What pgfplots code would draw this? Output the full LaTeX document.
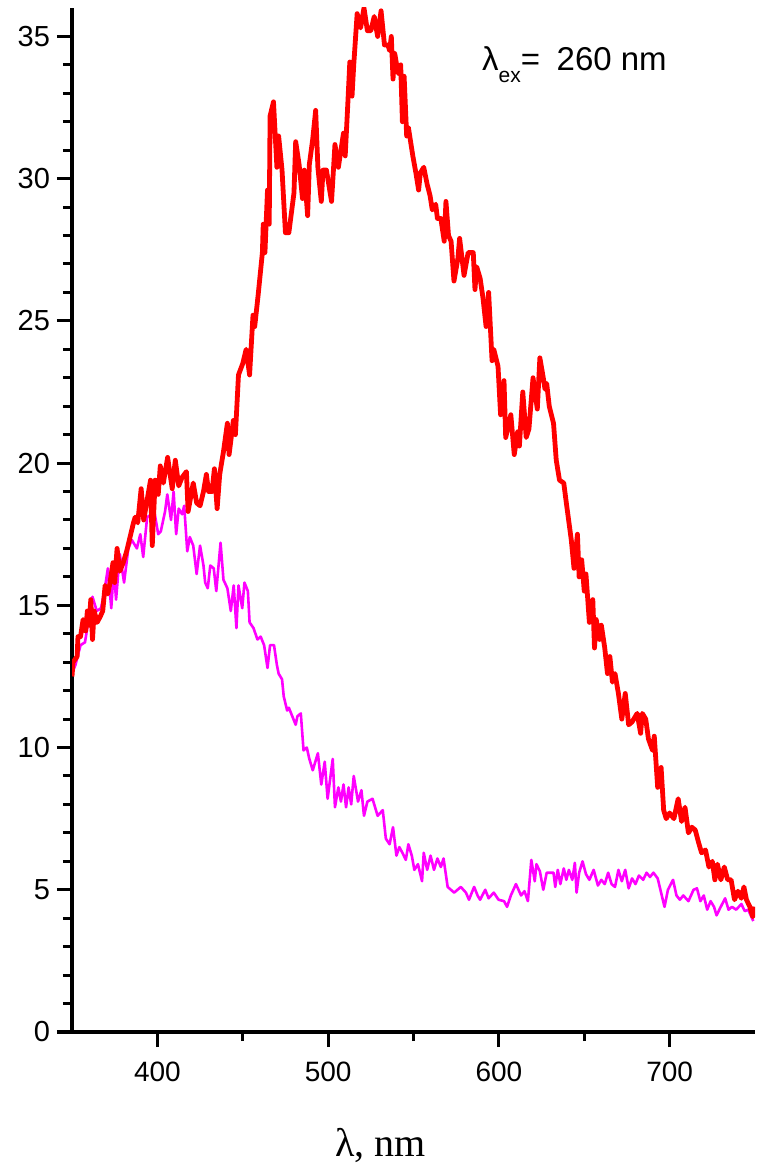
\documentclass[border=0pt]{standalone}
\usepackage{fontspec}
\setmainfont{Liberation Sans}
\newfontfamily\timesfont{Liberation Serif}
\usepackage{pgfplots}
\pgfplotsset{compat=1.18}

\pgfplotstableread{
x y
350 12.5
350.6 13.0
353 13.2
353.5 13.9
355 13.9
356.5 14.5
358 14.1
359 14.8
360 14.3
361 15.2
362 13.8
363 14.8
364.7 14.4
366.5 14.6
368 14.8
369.4 15.7
371 15.4
372.3 15.8
374 16.5
375 15.8
376.4 17.0
378 16.2
380 16.5
382 16.9
384 17.4
386 17.9
387 18.1
388.5 17.9
390.5 19.1
392 18.0
394 18.7
396 19.4
397 17.1
398.7 19.4
400.5 18.9
401.7 19.9
403.5 19.3
406 20.2
408.7 19.1
410.5 20.1
412.5 19.2
414.5 19.5
417 19.7
418 18.3
421 19.3
423 18.6
425 18.5
427 19.0
428.7 19.6
430 19.0
432 19.0
433.4 19.8
435 18.4
436.5 19.6
438.7 20.4
441 21.4
442 20.3
444.5 21.5
445.7 21.0
447.5 23.1
450 23.5
452 24.0
454 23.1
456 25.2
457 24.8
459 25.9
461.5 27.4
462 28.4
463 27.4
464.5 29.6
465.5 28.4
466 32.2
468 32.7
470 30.4
471 31.5
473 30.3
475 28.1
477 28.1
480 29.5
481 31.3
483 30.5
485 29.3
486 30.3
488 28.7
489 30.5
491 31.4
492.7 32.4
494 30.4
496 29.2
497 30.3
499 30.3
502 29.2
504 31.2
506 30.4
509 31.6
510 30.8
511.5 32.6
512.7 34.1
514 32.9
515 34.0
517 35.8
519 35.3
521 36.0
523 35.2
525 35.2
527 35.7
529 35.0
531 35.9
533 34.7
535 34.7
536 34.5
537 35.0
538 33.5
539 34.4
541 33.7
542.5 34.0
543.5 32.0
544.5 33.6
546 31.5
547 31.8
549.6 30.8
551.4 30.2
553 29.6
554 30.2
556 30.4
558 29.8
559.7 29.4
561 28.9
563 29.1
564 28.6
566 28.6
568 27.8
569 29.2
570.5 28.0
572 27.8
573.7 26.4
576 27.2
577 27.9
579.6 26.6
582 27.4
583.5 27.4
585 27.4
586 26.1
587 26.9
589 26.5
590.7 25.8
592.5 24.8
594 26.0
596 23.6
597 24.0
599.5 23.4
601 21.7
603 22.9
604 20.9
607 21.7
609 20.3
611 21.1
612 20.6
614 22.5
616 20.9
617.6 21.2
620 23.0
622.5 21.9
624 23.7
626 23.0
627 22.6
628 22.8
629.5 22.0
632 21.4
633.6 20.1
635.5 19.4
638 19.3
639.5 18.6
642.4 17.3
644 16.3
646 17.5
647 16.0
648.5 16.6
650 15.5
651 16.1
653 14.4
655 15.2
656 13.5
657 14.5
659 13.8
660 14.3
662 13.5
663.6 12.6
665 13.2
666.5 12.3
668 12.6
670 11.9
672 11.0
674 11.9
676 10.8
678 10.9
681 11.2
683 10.5
684 11.2
686 11.0
687.6 10.3
690 9.9
691 10.4
693 8.6
695 9.3
696.5 7.8
698 7.5
700 7.7
702.5 7.5
705 8.2
707 7.4
709 7.9
711 7.0
713 7.2
715 7.1
717 6.65
718.7 6.3
721 6.4
723 5.8
725 6.0
726.5 5.35
728 5.9
730 5.35
732 5.8
734 5.35
736 5.35
738 4.65
740 4.95
742 4.7
743.5 5.1
745 4.65
747 4.4
748.7 4.05
750 4.4
}\redtable

\pgfplotstableread{
x y
350 12.6
352 12.9
355 13.6
357.6 13.7
360 14.6
362 15.3
364.5 14.8
367 14.9
369 15.5
371 16.3
373 14.9
374.5 16.3
375.8 15.2
378 16.8
380.5 15.8
383 17.0
385 17.3
388 17.0
390 17.5
391.7 16.7
394 18.1
396.5 18.2
398.5 18.2
400.5 17.5
402 17.6
404.5 18.3
405.8 18.9
408 18.0
409.5 19.0
411 17.5
412.5 18.4
414.5 18.2
415.7 18.5
417.5 16.9
419 17.4
421 17.1
423 16.1
425 17.1
427 16.4
428 15.8
429.5 15.6
431 16.4
433 16.3
434.5 15.5
437 17.2
438.7 15.9
441 15.6
443 14.8
444.7 15.7
446.3 14.2
447.5 15.7
449.7 14.9
451 15.8
453 15.5
454 14.4
456.3 14.2
458.6 13.8
460.5 13.9
462.5 13.6
464.5 12.8
466 13.6
468.3 13.6
470 12.9
471 12.6
473 12.4
474 11.8
476 11.3
477 11.4
479 11.1
481 10.8
482 11.1
484 11.2
485.6 9.9
487.5 10.0
489 9.6
491 9.2
494 9.8
496 8.7
498 9.5
499.7 8.2
502.7 9.6
504 7.9
506 8.6
507.5 8.1
509 8.7
510.5 7.9
512 8.6
513.5 8.0
515 9.0
517.5 8.1
519.5 8.5
521 7.6
523 8.1
526 8.2
529 7.6
532 7.8
533.8 6.8
536 6.6
538 7.2
540 6.2
541.7 6.5
543.5 6.3
545.5 6.05
547 6.6
549 6.2
550.5 5.7
552.6 5.9
555 5.3
556 6.3
558 5.7
560 6.2
562 5.7
564 6.1
566 5.8
567.6 6.1
570 5.1
573.8 4.9
577.7 5.1
580.7 4.9
582.5 4.65
585.5 5.1
587.5 4.8
589 4.65
592 5.0
594 4.7
597 4.9
599.8 4.65
603 4.6
604.8 4.4
607 4.8
610 5.2
613 4.8
615 4.95
617 4.6
619 6.05
621 5.3
622 5.9
624 5.65
626 5.0
628 5.6
630 5.6
632 5.6
633 5.1
634.5 5.7
636 5.2
638 5.75
639.5 5.35
641 5.7
643 5.35
644.5 5.95
645.5 4.9
647 5.6
649 6.0
651 5.55
653 5.35
655.5 5.7
658 5.15
660 5.35
662 5.2
664 5.6
666 5.2
668 5.1
670 5.7
672 5.3
674 5.7
676 5.05
678 5.4
680 5.2
682 5.5
684.5 5.35
686.5 5.6
688.5 5.45
690.5 5.6
693 5.4
695 4.9
697 4.4
699 5.0
702 5.35
704 4.8
706 4.65
708 4.8
711 4.6
714 5.0
716 5.05
718 4.6
720 4.8
722 4.3
724 4.6
726 4.4
727.5 4.1
729.5 4.35
732.5 4.7
734.5 4.3
736.5 4.4
739 4.3
742 4.5
744 4.25
746 4.3
749 3.9
}\magtable

\begin{document}
\begin{tikzpicture}
  \begin{axis}[
    scale only axis,
    width=341.5pt,
    height=512pt,
    xmin=350, xmax=750,
    ymin=0, ymax=36,
    axis lines=left,
    axis line style={-, line width=1.5pt},
    xtick={400,500,600,700},
    ytick={0,5,...,35},
    minor x tick num=1,
    minor y tick num=4,
    tick align=outside,
    tick style={black, line width=1.5pt},
    major tick length=7.5pt,
    minor tick length=4.5pt,
    /pgf/number format/assume math mode=true,
    tick label style={font=\fontsize{14}{16}\selectfont},
    yticklabel style={font=\fontsize{14.5}{16}\selectfont},
    xticklabel style={yshift=-4pt},
    clip mode=individual,
  ]
    \addplot[color={rgb,255:red,255;green,0;blue,255}, line width=1.3pt, line join=round] table[x=x, y=y] {\magtable};
    \addplot[color={rgb,255:red,255;green,0;blue,0}, line width=2.4pt, line join=round] table[x=x, y=y] {\redtable};
    \node[anchor=base west, inner sep=0pt] at (axis description cs:0.600,0.939)
      {\fontsize{16.5}{19}\selectfont λ\raisebox{-0.35em}{\fontsize{10.5}{12}\selectfont ex}=\hspace{0.5em}260 nm};
    \node[anchor=base, inner sep=0pt] at (axis description cs:0.452,-0.122)
      {\timesfont\fontsize{20}{24}\selectfont λ, nm};
  \end{axis}
  \pgfresetboundingbox
  \path ([xshift=-36pt,yshift=-68pt]current axis.south west) rectangle ([xshift=3.5pt,yshift=4pt]current axis.north east);
\end{tikzpicture}
\end{document}
